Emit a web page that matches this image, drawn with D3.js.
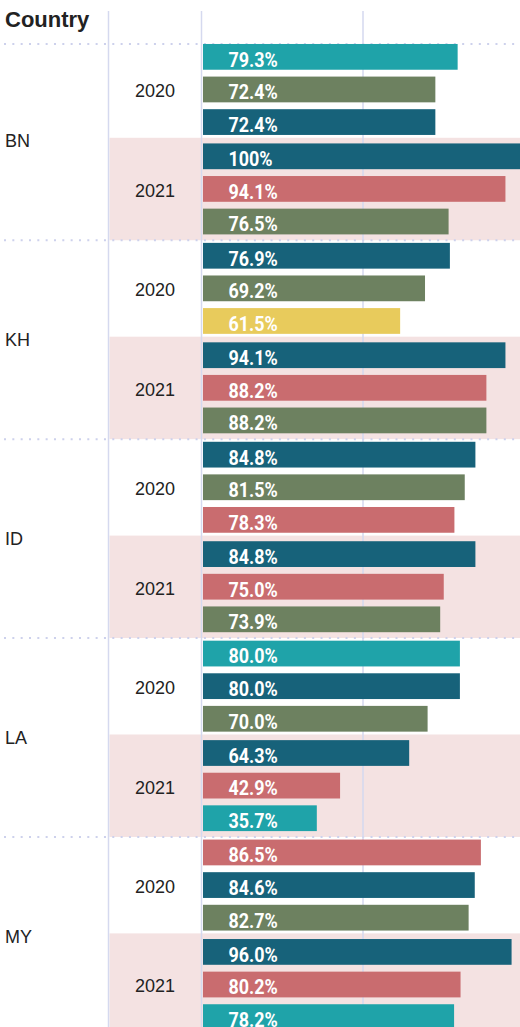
<!DOCTYPE html>
<html>
<head>
<meta charset="utf-8">
<script src="https://cdn.jsdelivr.net/npm/d3@7"></script>
<style>
  html, body { margin: 0; padding: 0; background: #fff; overflow: hidden; }
  svg { display: block; }
</style>
</head>
<body>
<div id="chart"></div>
<script>
// data
const countries = ["BN", "KH", "ID", "LA", "MY"];
const years = ["2020", "2021"];
const categories = ["A", "B", "C", "D", "E"];
// one row per country-year, same order as countries x years
const barCats = [
  ["A", "B", "C"], ["C", "D", "B"],
  ["C", "B", "E"], ["C", "D", "B"],
  ["C", "B", "D"], ["C", "D", "B"],
  ["A", "C", "B"], ["C", "D", "A"],
  ["D", "C", "B"], ["C", "D", "A"]
];
const barValues = [
  [79.3, 72.4, 72.4], [100, 94.1, 76.5],
  [76.9, 69.2, 61.5], [94.1, 88.2, 88.2],
  [84.8, 81.5, 78.3], [84.8, 75.0, 73.9],
  [80.0, 80.0, 70.0], [64.3, 42.9, 35.7],
  [86.5, 84.6, 82.7], [96.0, 80.2, 78.2]
];

const width = 520, height = 1027;
const y0 = 41.35, countryStep = 198.9;

const color = d3.scaleOrdinal()
  .domain(categories)
  .range(["#1fa3a9", "#6d8160", "#17627a", "#c96c6f", "#e8cb5c"]);

const x = d3.scaleLinear().domain([0, 100]).range([201.5, 524.5]);
const yCountry = d3.scaleBand().domain(countries).range([y0, y0 + countries.length * countryStep]);
const yYear = d3.scaleBand().domain(years).range([0, yCountry.bandwidth()]);
const yBar = d3.scaleBand().domain([0, 1, 2]).range([0, yYear.bandwidth()])
  .paddingInner(0.21).paddingOuter(0.13).align(0.31);

// flatten to rows
const rows = [];
countries.forEach((c, ci) => {
  years.forEach((yr, yi) => {
    const k = ci * years.length + yi;
    rows.push({ country: c, year: yr, bars: barValues[k].map((v, i) => ({ value: v, cat: barCats[k][i], idx: i })) });
  });
});

const svg = d3.select("#chart").append("svg")
  .attr("width", width)
  .attr("height", height);

const gridColor = "#d5d9ef";
const fmt = v => v === 100 ? "100%" : d3.format(".1f")(v) + "%";

// pink band behind the 2021 rows
svg.append("g").selectAll("rect")
  .data(rows.filter(d => d.year === "2021"))
  .join("rect")
  .attr("x", 109.5)
  .attr("y", d => yCountry(d.country) + yYear(d.year) - 3)
  .attr("width", width - 109.5)
  .attr("height", d => yYear.bandwidth() + 3)
  .attr("fill", "#f4e2e2");

// dotted separators (header border + between countries)
const sepY = [44].concat(countries.slice(1).map(c => yCountry(c)));
svg.append("g").selectAll("line")
  .data(sepY)
  .join("line")
  .attr("x1", 4).attr("x2", width)
  .attr("y1", d => d).attr("y2", d => d)
  .attr("stroke", "#cdd1ec")
  .attr("stroke-width", 2)
  .attr("stroke-dasharray", "2 6.33");

// column lines and the 50% gridline
svg.append("g").selectAll("line")
  .data([108.5, x(0), x(50)])
  .join("line")
  .attr("x1", d => d).attr("x2", d => d)
  .attr("y1", 11).attr("y2", height)
  .attr("stroke", gridColor)
  .attr("stroke-width", 1.5);

// header
svg.append("text")
  .attr("x", 5).attr("y", 27.3)
  .attr("font-family", "'Liberation Sans', Arial, sans-serif")
  .attr("font-weight", "bold")
  .attr("font-size", 22)
  .attr("fill", "#222")
  .text("Country");

// country labels
svg.append("g").selectAll("text")
  .data(countries)
  .join("text")
  .attr("x", 5)
  .attr("y", d => yCountry(d) + yCountry.bandwidth() / 2)
  .attr("dy", "0.35em")
  .attr("font-family", "'Liberation Sans', Arial, sans-serif")
  .attr("font-size", 18)
  .attr("fill", "#222")
  .text(d => d);

// year labels
svg.append("g").selectAll("text")
  .data(rows)
  .join("text")
  .attr("x", 155)
  .attr("y", d => yCountry(d.country) + yYear(d.year) + yYear.bandwidth() / 2)
  .attr("dy", "0.35em")
  .attr("text-anchor", "middle")
  .attr("font-family", "'Liberation Sans', Arial, sans-serif")
  .attr("font-size", 18)
  .attr("fill", "#222")
  .text(d => d.year);

// bars
const groups = svg.append("g").selectAll("g")
  .data(rows)
  .join("g")
  .attr("transform", d => "translate(0," + (yCountry(d.country) + yYear(d.year)) + ")");

groups.selectAll("rect")
  .data(d => d.bars)
  .join("rect")
  .attr("x", x(0) + 1.5)
  .attr("y", d => yBar(d.idx))
  .attr("width", d => x(d.value) - x(0) - 1.5)
  .attr("height", yBar.bandwidth())
  .attr("fill", d => color(d.cat));

// value labels, squeezed a little to look condensed
const lx = 228.5;
groups.selectAll("text")
  .data(d => d.bars)
  .join("text")
  .attr("transform", d => "translate(" + lx + "," + (yBar(d.idx) + yBar.bandwidth() - 3) + ") scale(0.92,1)")
  .attr("font-family", "Roboto, sans-serif")
  .attr("font-weight", "bold")
  .attr("font-size", 19.5)
  .attr("fill", "#fff")
  .text(d => fmt(d.value));
</script>
</body>
</html>
